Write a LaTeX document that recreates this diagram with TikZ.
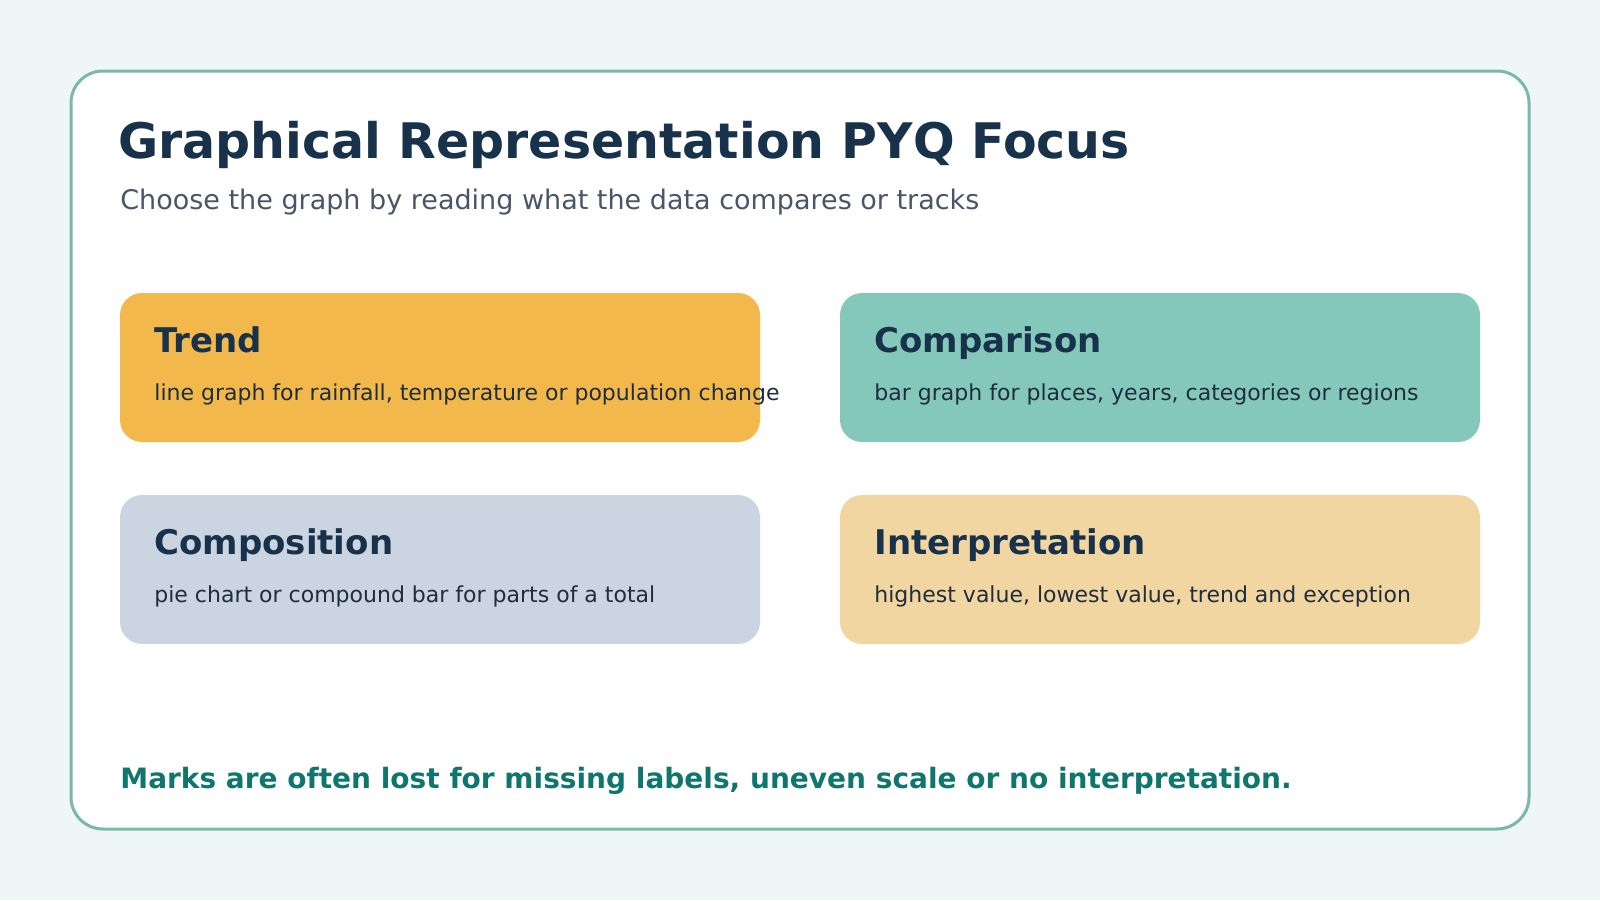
\documentclass[tikz,border=0pt]{standalone}
\usepackage{fontspec}
\setmainfont{DejaVu Sans}
\definecolor{bgc}{HTML}{EEF7F5}
\definecolor{bord}{HTML}{7BB8AA}
\definecolor{ttl}{HTML}{17324A}
\definecolor{sub}{HTML}{4A5568}
\definecolor{ctrend}{HTML}{F2B84B}
\definecolor{ccomp}{HTML}{84C8BC}
\definecolor{ccompo}{HTML}{CBD5E1}
\definecolor{cinter}{HTML}{F2D6A2}
\definecolor{foot}{HTML}{0F766E}
\definecolor{body}{HTML}{1F2D3D}
\begin{document}
\begin{tikzpicture}[x=0.5pt,y=-0.5pt,
  card/.style={rounded corners=11pt,draw=none},
  ctitle/.style={anchor=base west,text=ttl,font=\fontsize{17}{20}\selectfont\bfseries,inner sep=0},
  cbody/.style={anchor=base west,text=body,font=\fontsize{11}{13}\selectfont,inner sep=0}]
\useasboundingbox (0,0) rectangle (1600,900);
\fill[bgc] (0,0) rectangle (1600,900);
\draw[bord,line width=1.5pt,fill=white,rounded corners=16pt] (71,71) rectangle (1529,829);
\node[anchor=base west,inner sep=0,text=ttl,font=\fontsize{24.5}{28}\selectfont\bfseries] (title) at (118,158) {Graphical Representation PYQ Focus};
\node[anchor=base west,inner sep=0,text=sub,font=\fontsize{13.5}{16}\selectfont] (subt) at (120,209) {Choose the graph by reading what the data compares or tracks};
\fill[card,ctrend] (120,293) rectangle (760,442);
\fill[card,ccomp] (840,293) rectangle (1480,442);
\fill[card,ccompo] (120,495) rectangle (760,644);
\fill[card,cinter] (840,495) rectangle (1480,644);
\node[ctitle] (t1) at (154,352) {Trend};
\node[cbody] (b1) at (154,400) {line graph for rainfall, temperature or population change};
\node[ctitle] (t2) at (874,352) {Comparison};
\node[cbody] (b2) at (874,400) {bar graph for places, years, categories or regions};
\node[ctitle] (t3) at (154,554) {Composition};
\node[cbody] (b3) at (154,602) {pie chart or compound bar for parts of a total};
\node[ctitle] (t4) at (874,554) {Interpretation};
\node[cbody] (b4) at (874,602) {highest value, lowest value, trend and exception};
\node[anchor=base west,inner sep=0,text=foot,font=\fontsize{14}{17}\selectfont\bfseries] (ft) at (120,788) {Marks are often lost for missing labels, uneven scale or no interpretation.};
\end{tikzpicture}
\end{document}
